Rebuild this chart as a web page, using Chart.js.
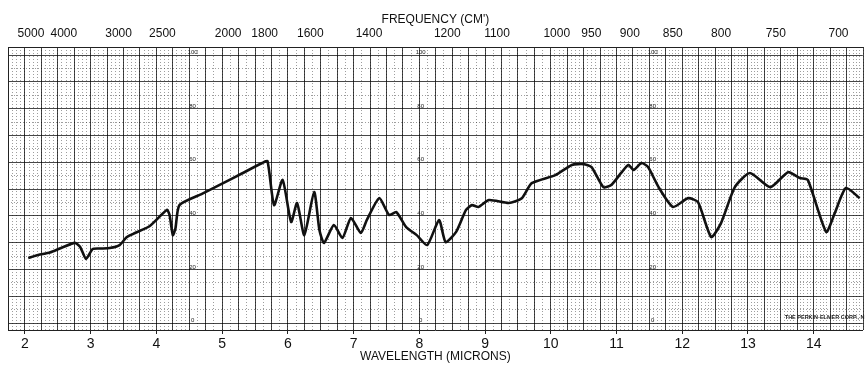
<!DOCTYPE html>
<html lang="en">
<head>
    <meta charset="UTF-8">
    <title>IR spectrum</title>
    <style>
        body { margin: 0; background: #fff; }
        canvas { display: block; }
    </style>
</head>
<body>
    <canvas id="irChart" width="865" height="365"></canvas>

    <script src="https://cdn.jsdelivr.net/npm/chart.js"></script>
    <script>
        // trace: wavelength in microns, transmittance in %
        var wavelength = [
            2.05, 2.20, 2.38, 2.55, 2.76, 2.84, 2.93, 3.03, 3.15, 3.29,
            3.44, 3.55, 3.64, 3.90, 4.16, 4.20, 4.25, 4.29, 4.35, 4.70,
            5.00, 5.30, 5.61, 5.69, 5.79, 5.92, 6.05, 6.14, 6.25, 6.40,
            6.48, 6.55, 6.70, 6.83, 6.96, 7.11, 7.20, 7.39, 7.54, 7.65,
            7.80, 7.96, 8.12, 8.30, 8.40, 8.56, 8.71, 8.80, 8.90, 9.06,
            9.36, 9.56, 9.71, 10.07, 10.32, 10.50, 10.62, 10.80, 10.92, 11.07,
            11.18, 11.26, 11.38, 11.48, 11.64, 11.86, 12.09, 12.24, 12.44, 12.59,
            12.80, 13.03, 13.34, 13.61, 13.79, 13.91, 14.19, 14.32, 14.49, 14.70
        ];
        var transmittance = [
            24.3, 25.4, 26.3, 28.0, 29.9, 28.4, 23.9, 27.6, 27.8, 28.0,
            29.1, 32.1, 33.2, 36.2, 42.2, 40.3, 32.8, 35.4, 44.0, 48.3,
            52.0, 55.8, 59.7, 60.4, 44.0, 53.4, 37.7, 44.8, 32.8, 48.9,
            34.7, 29.9, 36.6, 31.7, 39.2, 33.6, 38.4, 46.6, 40.3, 41.4,
            35.8, 32.8, 29.1, 38.4, 30.2, 34.0, 42.2, 44.0, 43.3, 45.9,
            44.8, 46.6, 52.2, 55.2, 59.0, 59.3, 58.2, 50.7, 51.5, 56.0,
            59.0, 57.1, 59.7, 58.2, 50.7, 43.3, 46.6, 45.1, 32.1, 37.3,
            50.7, 56.0, 50.7, 56.3, 54.1, 53.4, 34.0, 41.0, 50.4, 46.6
        ];
        var micronTicks = [2, 3, 4, 5, 6, 7, 8, 9, 10, 11, 12, 13, 14];
        var freqTicks = [5000, 4000, 3000, 2500, 2000, 1800, 1600, 1400, 1200, 1100, 1000, 950, 900, 850, 800, 750, 700];
        var percentLabels = [0, 20, 40, 60, 80, 100];
        var labelColumns = [4.55, 8.02, 11.55];

        var FONT = '"Liberation Sans", Arial, sans-serif';
        var X_MIN = 1.742, X_MAX = 14.747;
        var Y_MIN = -2.6, Y_MAX = 103;

        function steps(from, to, step) {
            var out = [];
            for (var v = from; v <= to + 1e-9; v += step) out.push({ value: +v.toFixed(4) });
            return out;
        }

        // dotted chart-paper lines, denser toward the long-wavelength end
        function fineTicks() {
            return [].concat(
                steps(1.8125, 4.5, 0.0625),
                steps(4.625, 10, 0.125),
                steps(10.0625, 11.75, 0.0625),
                steps(11.8, 14.75, 0.05)
            );
        }

        var paperText = {
            id: 'paperText',
            beforeDatasetsDraw: function(chart) {
                var ctx = chart.ctx, x = chart.scales.x, y = chart.scales.y;
                ctx.save();
                ctx.fillStyle = '#222';
                ctx.font = '6px ' + FONT;
                ctx.textAlign = 'center';
                ctx.textBaseline = 'middle';
                labelColumns.forEach(function(c) {
                    percentLabels.forEach(function(p) {
                        ctx.fillText(String(p), x.getPixelForValue(c), y.getPixelForValue(p) - 2.5);
                    });
                });
                ctx.font = 'bold 5.5px ' + FONT;
                ctx.textAlign = 'left';
                ctx.fillText('THE PERKIN-ELMER CORP., N', x.getPixelForValue(13.56), y.getPixelForValue(2.2));
                ctx.restore();
            }
        };

        var chart = new Chart(document.getElementById('irChart').getContext('2d'), {
            type: 'line',
            data: {
                datasets: [{
                    data: wavelength.map(function(w, i) { return { x: w, y: transmittance[i] }; }),
                    borderColor: '#111',
                    borderWidth: 2.6,
                    pointRadius: 0,
                    fill: false,
                    tension: 0.2,
                    xAxisID: 'x',
                    yAxisID: 'y'
                }]
            },
            options: {
                responsive: false,
                animation: false,
                events: [],
                layout: { padding: { left: 8, right: 0, top: 0, bottom: 0 } },
                scales: {
                    x: {
                        type: 'linear',
                        position: 'bottom',
                        min: X_MIN,
                        max: X_MAX,
                        afterBuildTicks: function(s) { s.ticks = steps(2, 14.75, 0.25); },
                        afterFit: function(s) { s.height = 35; },
                        grid: {
                            color: 'rgba(0,0,0,0.72)',
                            lineWidth: 1,
                            tickLength: 4,
                            tickColor: function(c) {
                                return c.tick && micronTicks.indexOf(c.tick.value) >= 0 ? '#222' : 'rgba(0,0,0,0)';
                            }
                        },
                        border: { color: '#222', width: 1 },
                        ticks: {
                            autoSkip: false,
                            maxRotation: 0,
                            padding: 2,
                            color: '#111',
                            font: { family: FONT, size: 14 },
                            callback: function(v) { return micronTicks.indexOf(v) >= 0 ? String(v) : ''; }
                        },
                        title: {
                            display: true,
                            text: 'WAVELENGTH (MICRONS)',
                            color: '#111',
                            font: { family: FONT, size: 12 },
                            padding: { top: 0, bottom: 1 }
                        }
                    },
                    x2: {
                        type: 'linear',
                        position: 'top',
                        min: X_MIN,
                        max: X_MAX,
                        afterBuildTicks: function(s) {
                            s.ticks = freqTicks.map(function(f) { return { value: 10000 / f }; });
                        },
                        afterFit: function(s) { s.height = 47; },
                        grid: { display: false, drawTicks: false },
                        border: { display: true, color: '#222', width: 1 },
                        ticks: {
                            autoSkip: false,
                            maxRotation: 0,
                            padding: 6,
                            labelOffset: 6,
                            color: '#111',
                            font: { family: FONT, size: 12 },
                            callback: function(v, i) { return String(freqTicks[i]); }
                        },
                        title: {
                            display: true,
                            text: "FREQUENCY (CM')",
                            color: '#111',
                            font: { family: FONT, size: 12 },
                            padding: { top: 12, bottom: 0 }
                        }
                    },
                    xf: {
                        type: 'linear',
                        position: 'bottom',
                        min: X_MIN,
                        max: X_MAX,
                        afterBuildTicks: function(s) { s.ticks = fineTicks(); },
                        afterFit: function(s) { s.height = 0; },
                        ticks: { display: false },
                        grid: { color: 'rgba(0,0,0,0.38)', lineWidth: 1, drawTicks: false },
                        border: { display: false, dash: [1, 2] }
                    },
                    y: {
                        type: 'linear',
                        position: 'left',
                        min: Y_MIN,
                        max: Y_MAX,
                        afterBuildTicks: function(s) { s.ticks = steps(0, 100, 10); },
                        afterFit: function(s) { s.width = 0; },
                        ticks: { display: false },
                        grid: { color: 'rgba(0,0,0,0.72)', lineWidth: 1, drawTicks: false },
                        border: { color: '#222', width: 1 }
                    },
                    yf: {
                        type: 'linear',
                        position: 'left',
                        min: Y_MIN,
                        max: Y_MAX,
                        afterBuildTicks: function(s) { s.ticks = steps(5, 95, 10); },
                        afterFit: function(s) { s.width = 0; },
                        ticks: { display: false },
                        grid: { color: 'rgba(0,0,0,0.38)', lineWidth: 1, drawTicks: false },
                        border: { display: false, dash: [1, 2] }
                    }
                },
                plugins: {
                    legend: { display: false },
                    tooltip: { enabled: false }
                }
            },
            plugins: [paperText]
        });
    </script>
</body>
</html>
